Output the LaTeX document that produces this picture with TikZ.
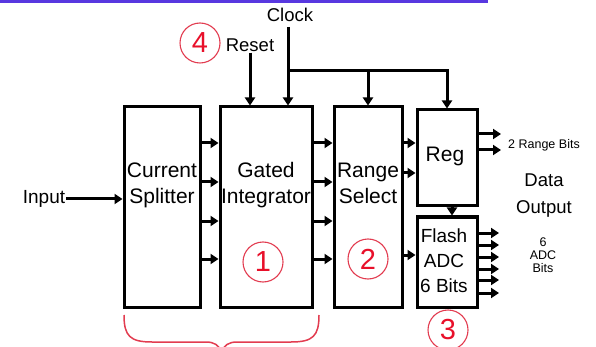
\documentclass[tikz,border=0pt]{standalone}
\usepackage{fontspec}
\setmainfont{Liberation Sans}
\usetikzlibrary{arrows.meta}
\definecolor{barblue}{RGB}{88,56,224}
\definecolor{circred}{RGB}{226,60,80}
\definecolor{digred}{RGB}{232,16,42}
\tikzset{
  blk/.style={draw, line width=3pt, minimum width=#1, inner sep=0pt},
  lbl/.style={font=\fontsize{21}{26}\selectfont, align=center, inner sep=0pt},
  sig/.style={font=\fontsize{18.5}{22}\selectfont, inner sep=1pt},
  small/.style={font=\fontsize{12.5}{13}\selectfont, align=center, inner sep=0pt},
  arr/.style={line width=3pt, -{Triangle[length=8pt,width=10pt]}},
  num/.style={circle, draw=circred, line width=1.1pt, minimum size=40pt, inner sep=0pt,
    text=digred, font=\fontsize{29}{29}\selectfont},
  bracestyle/.style={draw=circred, line width=1.5pt}
}
\begin{document}
\begin{tikzpicture}[x=1pt,y=-1pt]
\useasboundingbox (0,0) rectangle (596,347);
\fill[barblue] (0,0) rectangle (488,3.5);

% blocks
\node[blk=76pt, minimum height=200pt] (split) at (162,207) {};
\node[blk=92pt, minimum height=200pt] (integ) at (266,207) {};
\node[blk=68pt, minimum height=200pt] (range) at (368,207) {};
\node[blk=60pt, minimum height=96pt] (reg) at (447,158) {};
\node[blk=60pt, minimum height=90pt] (flash) at (447,262) {};

% block labels
\node[lbl] (splitT) at (162,185) {Current\\Splitter};
\node[lbl] (integT) at (266,185) {Gated\\Integrator};
\node[lbl] (rangeT) at (368,183) {Range\\Select};
\node[lbl] (regT) at (445,156) {Reg};
\node[lbl, font=\fontsize{19}{25}\selectfont] (flashT) at (444,261) {Flash\\ADC\\6 Bits};

% input
\node[sig, font=\fontsize{19}{22}\selectfont] (input) at (44,199) {Input};
\draw[arr] (input.east) -- (split.west |- 0,199);

% clock and reset
\node[sig] (clock) at (290,15) {Clock};
\node[sig] (reset) at (250,45) {Reset};
\coordinate (clkx) at (288,27);
\coordinate (branch) at (288,71);
\draw[arr] (clkx) -- (integ.north -| clkx);
\draw[arr] (reset.south -| 250,0) -- (integ.north -| 250,0);
\draw[arr] (branch) -| (reg.north);
\draw[arr] (range.north |- branch) -- (range.north);

% splitter -> integrator -> range select
\foreach \yy in {143,182,221,259} {
  \draw[arr] (split.east |- 0,\yy) -- (integ.west |- 0,\yy);
  \draw[arr] (integ.east |- 0,\yy) -- (range.west |- 0,\yy);
}
% range select -> reg, flash
\foreach \yy in {143,173} \draw[arr] (range.east |- 0,\yy) -- (reg.west |- 0,\yy);
\draw[arr] (range.east |- 0,255) -- (flash.west |- 0,255);
% reg -> flash
\draw[arr] (reg.south -| 452,0) -- (flash.north -| 452,0);

% outputs
\coordinate (regout) at (501,0);
\foreach \yy in {134,150} \draw[arr] (reg.east |- 0,\yy) -- (regout |- 0,\yy);
\coordinate (adcout) at (499,0);
\foreach \yy in {233,245,257,269,280,293} \draw[arr] (flash.east |- 0,\yy) -- (adcout |- 0,\yy);

\node[small, anchor=west] (rbits) at (508,145) {2 Range Bits};
\node[lbl, font=\fontsize{18.5}{27}\selectfont] (dout) at (544,196) {Data\\Output};
\node[small] (abits) at (543,255) {6\\ADC\\Bits};

% numbered circles
\node[num] (n1) at (263,262) {1};
\node[num] (n2) at (368,259) {2};
\node[num] (n3) at (448,330) {3};
\node[num] (n4) at (200,43) {4};

% brace
\coordinate (bl) at (124,315);
\coordinate (br) at (319,315);
\coordinate (btip) at (221.5,352);
\draw[bracestyle] (bl) .. controls (124,336) and (130,342) .. (152,342) -- (206,342)
  .. controls (214,342) and (219,345) .. (btip);
\draw[bracestyle] (br) .. controls (319,336) and (313,342) .. (291,342) -- (237,342)
  .. controls (229,342) and (224,345) .. (btip);
\end{tikzpicture}
\end{document}
